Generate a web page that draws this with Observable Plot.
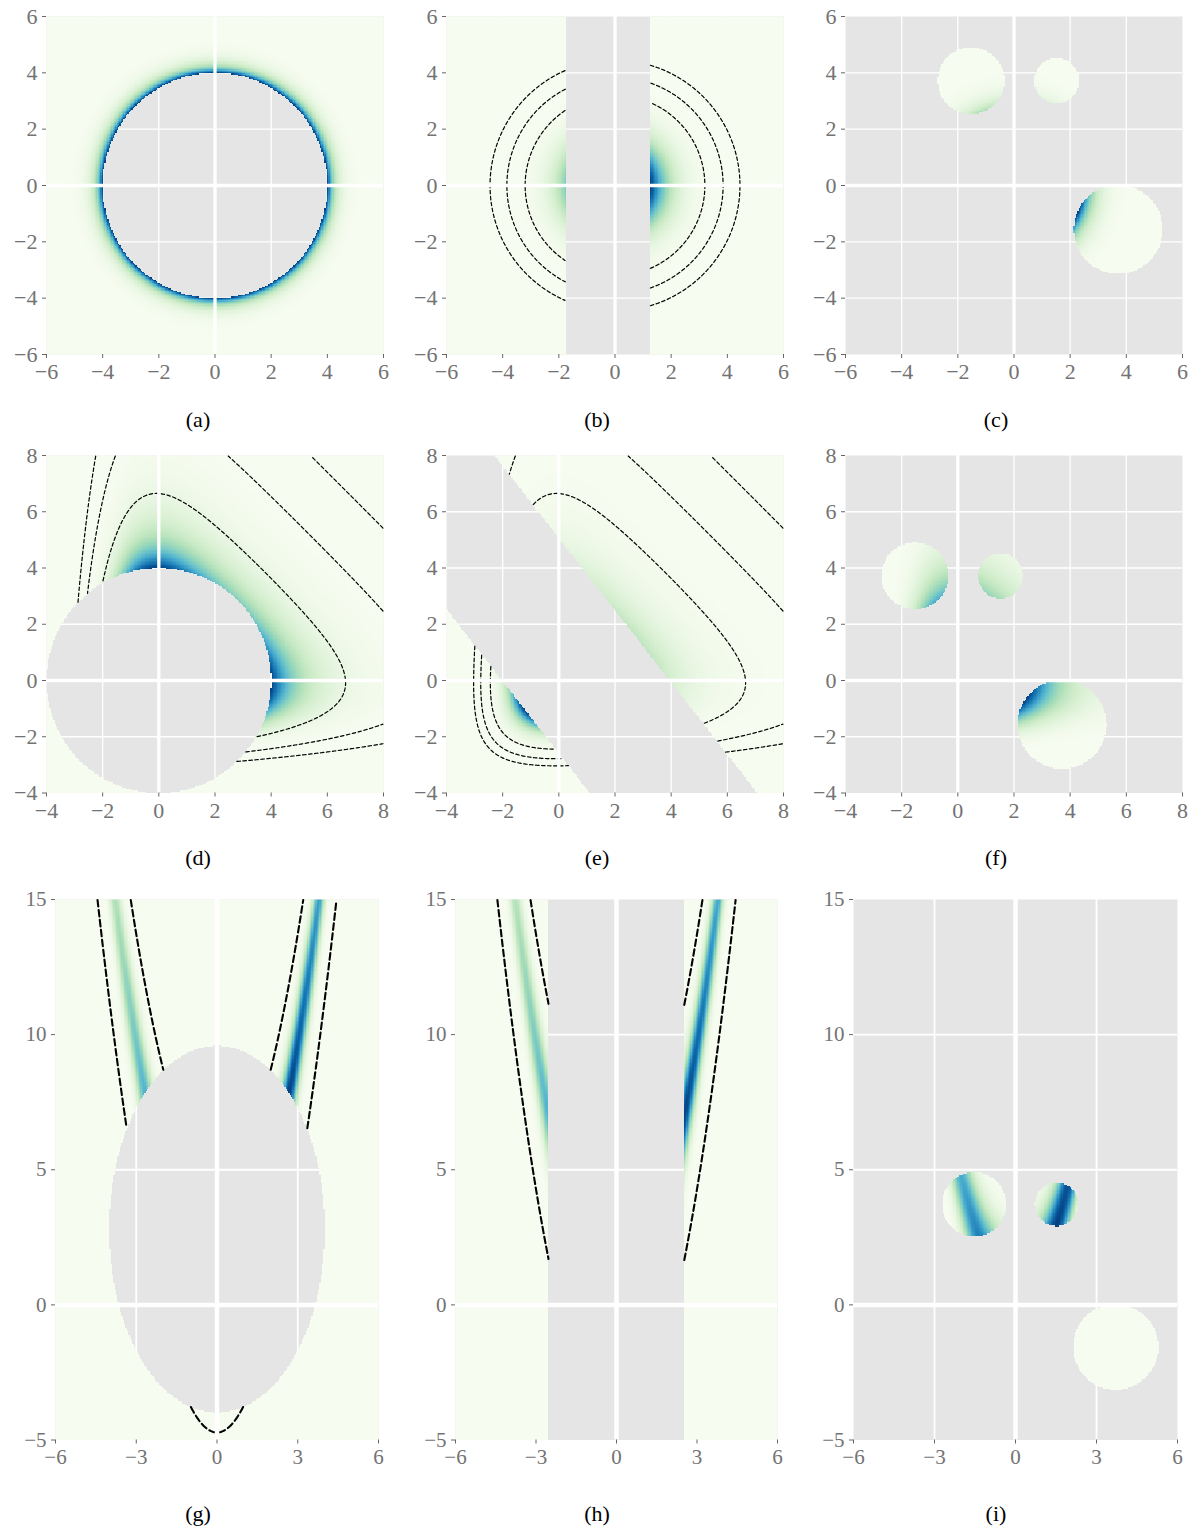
<!DOCTYPE html>
<html><head><meta charset="utf-8">
<script src="https://cdn.jsdelivr.net/npm/d3@7"></script>
<script src="https://cdn.jsdelivr.net/npm/@observablehq/plot@0.6"></script>
<style>
body{margin:0;background:#fff;}
#fig{position:relative;width:1195px;height:1529px;background:#fff;font-family:"Liberation Serif","Times New Roman",serif;overflow:hidden;}
.panel{position:absolute;}
.panel svg{max-width:none !important;}
.lab{position:absolute;font-size:22px;color:#000;transform:translateX(-50%);white-space:nowrap;line-height:22px;}
</style></head><body><div id="fig"></div>
<script>
// ---------------- data ----------------
const panelLabels = ["(a)","(b)","(c)","(d)","(e)","(f)","(g)","(h)","(i)"];
const ticksTop = [-6,-4,-2,0,2,4,6];
const ticksMid = [-4,-2,0,2,4,6,8];
const ticksBotX = [-6,-3,0,3,6];
const ticksBotY = [-5,0,5,10,15];
const domainTop = [-6,6];
const domainMid = [-4,8];
const domainBotX = [-6,6];
const domainBotY = [-5,15];

// masked (grey) regions
const maskDiskRadius = 4;              // (a), (d)
const stripB = [-1.75, 1.25];          // (b)
const bandE = [-2.02, 3.95];           // (e): band of x + slope*y
const bandESlope = 0.78;
const ellipseG = [0, 2.8, 4.0, 6.78];  // (g): cx, cy, a, b
const stripH = [-2.53, 2.52];          // (h)
// visible discs in (c), (f), (i)
const circleX = [-1.53, 1.52, 3.71];
const circleY = [3.72, 3.72, -1.56];
const circleR = [1.19, 0.8, 1.58];

// field parameters
const skewBeta = 1.05, skewGamma = 0.885;
const bananaSigma = 1.15, bananaShift = 0.6, bananaTilt = 0.09, bananaDecay = 0.0663;

// dashed contour levels
const contourRadiiB = [3.2, 3.85, 4.45];
const contourLevelsMid = [-7.7, -10.57, -13.41];
const contourLevelsBot = [-4.72, 4.72];

// ---------------- fields ----------------
const logGauss = (x,y) => -(x*x + y*y)/2;
const G = t => -t - skewBeta*Math.exp(-skewGamma*t);
const logSkew = (x,y) => G(x) + G(y);
const logBanana = (x,y) => { const d = y - x*x - bananaShift; return -d*d/(2*bananaSigma*bananaSigma) + bananaTilt*x - bananaDecay*x*x; };
const bananaLevel = (x,y) => y - x*x;

const inDisk = (x,y) => x*x + y*y < maskDiskRadius*maskDiskRadius;
const inCircles = (x,y) => circleX.some((cx,k) => (x-cx)**2 + (y-circleY[k])**2 < circleR[k]**2);
const inEllipse = (x,y) => ((x-ellipseG[0])/ellipseG[2])**2 + ((y-ellipseG[1])/ellipseG[3])**2 < 1;

// ---------------- layout ----------------
const colsTop = [[46,383],[446,783],[845,1182]];
const colsBot = [[55,378],[455,777],[853,1177]];
const rowsY = [[16,354],[455,792.5],[898.5,1439]];
const labelX = [198, 597, 996];
const labelY = [420, 858, 1514];

const specs = [
  {xd:domainTop, yd:domainTop, xt:ticksTop, yt:ticksTop, logf:logGauss, masked:inDisk, contour:null},
  {xd:domainTop, yd:domainTop, xt:ticksTop, yt:ticksTop, logf:logGauss, masked:(x,y)=>x>stripB[0]&&x<stripB[1],
    contour:{f:logGauss, levels:contourRadiiB.map(r=>-r*r/2)}},
  {xd:domainTop, yd:domainTop, xt:ticksTop, yt:ticksTop, logf:logGauss, masked:(x,y)=>!inCircles(x,y), contour:null},
  {xd:domainMid, yd:domainMid, xt:ticksMid, yt:ticksMid, logf:logSkew, masked:inDisk,
    contour:{f:logSkew, levels:contourLevelsMid}},
  {xd:domainMid, yd:domainMid, xt:ticksMid, yt:ticksMid, logf:logSkew,
    masked:(x,y)=>{const s=x+bandESlope*y; return s>bandE[0]&&s<bandE[1];},
    contour:{f:logSkew, levels:contourLevelsMid}},
  {xd:domainMid, yd:domainMid, xt:ticksMid, yt:ticksMid, logf:logSkew, masked:(x,y)=>!inCircles(x,y), contour:null},
  {xd:domainBotX, yd:domainBotY, xt:ticksBotX, yt:ticksBotY, logf:logBanana, masked:inEllipse,
    contour:{f:bananaLevel, levels:contourLevelsBot}},
  {xd:domainBotX, yd:domainBotY, xt:ticksBotX, yt:ticksBotY, logf:logBanana, masked:(x,y)=>x>stripH[0]&&x<stripH[1],
    contour:{f:bananaLevel, levels:contourLevelsBot}},
  {xd:domainBotX, yd:domainBotY, xt:ticksBotX, yt:ticksBotY, logf:logBanana, masked:(x,y)=>!inCircles(x,y), contour:null}
];

const fmt = d => d < 0 ? "\u2212" + Math.abs(d) : String(d);
const fig = document.getElementById("fig");

function heat(spec, nx, ny) {
  const [x0,x1] = spec.xd, [y0,y1] = spec.yd;
  const raw = new Float64Array(nx*ny);
  let mx = -Infinity;
  for (let j=0;j<ny;j++){
    const y = y1 - (j+0.5)*(y1-y0)/ny;
    for (let i=0;i<nx;i++){
      const x = x0 + (i+0.5)*(x1-x0)/nx, k = j*nx+i;
      if (spec.masked(x,y)) raw[k] = NaN;
      else { const v = spec.logf(x,y); raw[k] = v; if (v>mx) mx=v; }
    }
  }
  return Array.from(raw, v => isNaN(v) ? NaN : Math.exp(v - mx));
}

function contourLines(spec, n, m) {
  const [x0,x1] = spec.xd, [y0,y1] = spec.yd;
  const vals = new Float64Array(n*m);
  for (let j=0;j<m;j++){
    const y = y1 - (j+0.5)*(y1-y0)/m;
    for (let i=0;i<n;i++){ const x = x0 + (i+0.5)*(x1-x0)/n; vals[j*n+i] = spec.contour.f(x,y); }
  }
  const cs = d3.contours().size([n,m]).thresholds(spec.contour.levels)(vals);
  const out = []; let id = 0;
  for (const c of cs) for (const poly of c.coordinates) for (const ring of poly) {
    const pts = ring.map(([gx,gy]) => {
      const x = x0 + gx/n*(x1-x0), y = y1 - gy/m*(y1-y0);
      const edge = gx<=0.01 || gx>=n-0.01 || gy<=0.01 || gy>=m-0.01;
      return {x, y, ok: !edge && !spec.masked(x,y)};
    });
    const s = pts.findIndex(q => !q.ok);
    const seq = s < 0 ? pts : pts.slice(s).concat(pts.slice(0, s+1));
    let cur = [];
    const flush = () => { if (cur.length > 1) { id++; for (const q of cur) out.push({x:q.x, y:q.y, id}); } cur = []; };
    for (const q of seq) { if (q.ok) cur.push(q); else flush(); }
    flush();
  }
  return out;
}

specs.forEach((spec, idx) => {
  const row = Math.floor(idx/3), col = idx%3;
  const [fx0,fx1] = row < 2 ? colsTop[col] : colsBot[col];
  const [fy0,fy1] = rowsY[row];
  const big = row === 2;
  const ML=50, MR=16, MT=14, MB=46;
  const width = fx1-fx0+ML+MR, height = fy1-fy0+MT+MB;
  const [x0,x1] = spec.xd, [y0,y1] = spec.yd;
  const nx = big ? 240 : 250, ny = big ? 400 : 250;
  const vals = heat(spec, nx, ny);
  const thinW = big ? 1.8 : 1.3, thickW = big ? 4.5 : 3.3;
  const fs = big ? 21 : 22;
  const marks = [
    Plot.frame({fill:"#e5e5e5", stroke:"none"}),
    Plot.ruleX(spec.xt.filter(t => t!==0 && t>x0 && t<x1), {stroke:"#ffffff", strokeWidth:thinW}),
    Plot.ruleY(spec.yt.filter(t => t!==0 && t>y0 && t<y1), {stroke:"#ffffff", strokeWidth:thinW}),
    Plot.raster(vals, {width:nx, height:ny, x1:x0, x2:x1, y1:y1, y2:y0, fill:d=>d, imageRendering:"pixelated"})
  ];
  if (spec.contour) {
    const lines = contourLines(spec, 300, big ? 500 : 300);
    marks.push(Plot.line(lines, {x:"x", y:"y", z:"id", stroke:"#000", fill:"none",
      strokeWidth: big ? 2.1 : 1.2, strokeDasharray: big ? "6.5,3.5" : "3.5,2.5", curve:"linear"}));
  }
  marks.push(
    Plot.ruleX([0], {stroke:"#ffffff", strokeWidth:thickW}),
    Plot.ruleY([0], {stroke:"#ffffff", strokeWidth:thickW}),
    Plot.axisX({ticks:spec.xt, tickSize:4, tickPadding:5, tickFormat:fmt, label:null, stroke:"#666", fill:"#737373", fontSize:fs, fontFamily:"Liberation Serif"}),
    Plot.axisY({ticks:spec.yt, tickSize:4, tickPadding:5, tickFormat:fmt, label:null, stroke:"#666", fill:"#737373", fontSize:fs, fontFamily:"Liberation Serif"})
  );
  const svg = Plot.plot({
    width, height, marginLeft:ML, marginRight:MR, marginTop:MT, marginBottom:MB,
    x:{domain:[x0,x1]}, y:{domain:[y0,y1]},
    color:{type:"linear", scheme:"GnBu", domain:[0,1]},
    style:{background:"transparent", overflow:"visible"},
    marks
  });
  const div = document.createElement("div");
  div.className = "panel";
  div.style.left = (fx0-ML) + "px";
  div.style.top = (fy0-MT) + "px";
  div.style.width = width + "px";
  div.style.height = height + "px";
  div.appendChild(svg);
  fig.appendChild(div);

  const lab = document.createElement("div");
  lab.className = "lab";
  lab.textContent = panelLabels[idx];
  lab.style.left = labelX[col] + "px";
  lab.style.top = (labelY[row] - 11) + "px";
  fig.appendChild(lab);
});
</script></body></html>
